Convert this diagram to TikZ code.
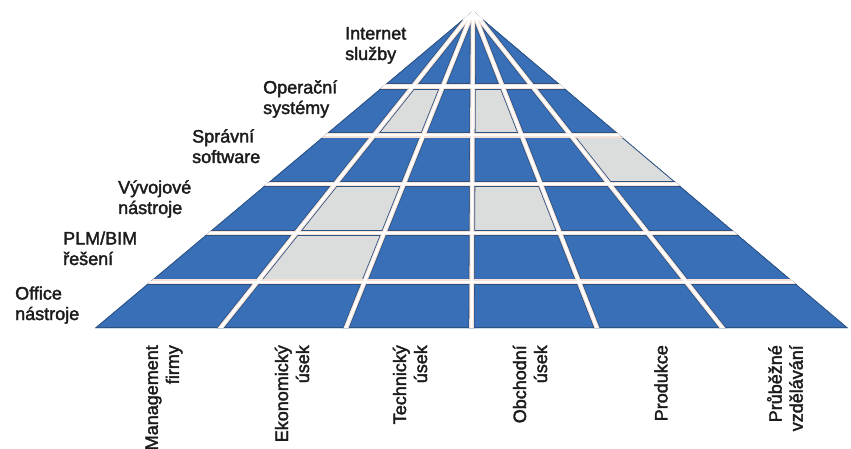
\documentclass[tikz,border=0pt]{standalone}
\usepackage{fontspec}
\setmainfont{Liberation Sans}
\newfontfamily\labelfont[FakeBold=2]{Liberation Sans}
\usetikzlibrary{calc}

\definecolor{cellblue}{RGB}{56,111,182}
\definecolor{cellgray}{RGB}{219,220,220}
\definecolor{seam}{RGB}{44,82,130}
\definecolor{gapedge}{RGB}{246,226,216}
\definecolor{labeltext}{RGB}{28,28,28}

% shaded cell between depths #1 and #2 (fractions from apex) and base points b#3, b#4
\newcommand\shadecell[4]{%
  \fill[cellgray] ($(apex)!#1!(b#3)$) -- ($(apex)!#1!(b#4)$)
    -- ($(apex)!#2!(b#4)$) -- ($(apex)!#2!(b#3)$) -- cycle;}

\begin{document}
\begin{tikzpicture}[x=1pt,y=-1pt,
  rowlabel/.style={anchor=base west, align=left, inner sep=0pt,
    font=\labelfont\fontsize{18}{20.5}\selectfont, text=labeltext},
  collabel/.style={rotate=90, anchor=east, align=right, inner sep=0pt,
    font=\labelfont\fontsize{18}{21}\selectfont, text=labeltext},
  gapdark/.style={draw=seam, line width=6.2pt},
  gaplight/.style={draw=gapedge, line width=4.6pt},
  gapwhite/.style={draw=white, line width=2.4pt}]

\useasboundingbox (0,0) rectangle (851,449);
\fill[white] (0,0) rectangle (851,449);

% apex and base division points of the pyramid
\coordinate (apex) at (473,11);
\foreach \i in {0,...,6} \coordinate (b\i) at ({95+125.5*\i},328);

\begin{scope}
  \clip (apex) -- (b0) -- (b6) -- cycle;
  \fill[cellblue] (apex) -- (b0) -- (b6) -- cycle;

  % highlighted cells
  \shadecell{0.2382}{0.3921}{1}{2}
  \shadecell{0.2382}{0.3921}{3}{4}
  \shadecell{0.3921}{0.5460}{5}{6}
  \shadecell{0.5460}{0.7000}{1}{2}
  \shadecell{0.5460}{0.7000}{3}{4}
  \shadecell{0.7000}{0.8539}{1}{2}

  \draw[seam, line width=1.6pt] (apex) -- (b0) -- (b6) -- cycle;

  % seams between the cells: dark edge, light band, white core
  \foreach \st in {gapdark,gaplight,gapwhite}{
    \foreach \yy in {86.5,135.3,184.1,232.9,281.7}
      \draw[\st] (0,\yy) -- (851,\yy);
    \foreach \i in {1,...,5}
      \draw[\st] (apex) -- ($(apex)!1.05!(b\i)$);
  }
  % blunt tip where the seams meet
  \fill[white] (430,0) rectangle (520,20);
\end{scope}

% layer labels (anchored on the baseline of the second line)
\node[rowlabel] (r1) at (345,60)  {Internet\\služby};
\node[rowlabel] (r2) at (263,114) {Operační\\systémy};
\node[rowlabel] (r3) at (192,163) {Správní\\software};
\node[rowlabel] (r4) at (118,214) {Vývojové\\nástroje};
\node[rowlabel] (r5) at (63,265)  {PLM/BIM\\řešení};
\node[rowlabel] (r6) at (15,320)  {Office\\nástroje};

% department labels
\node[collabel] (c1) at (164,345) {Management\\firmy};
\node[collabel] (c2) at (292,345) {Ekonomický\\úsek};
\node[collabel] (c3) at (410,345) {Technický\\úsek};
\node[collabel] (c4) at (530,345) {Obchodní\\úsek};
\node[collabel] (c5) at (661,345) {Produkce};
\node[collabel] (c6) at (785,345) {Průběžné\\vzdělávání};
\end{tikzpicture}
\end{document}
